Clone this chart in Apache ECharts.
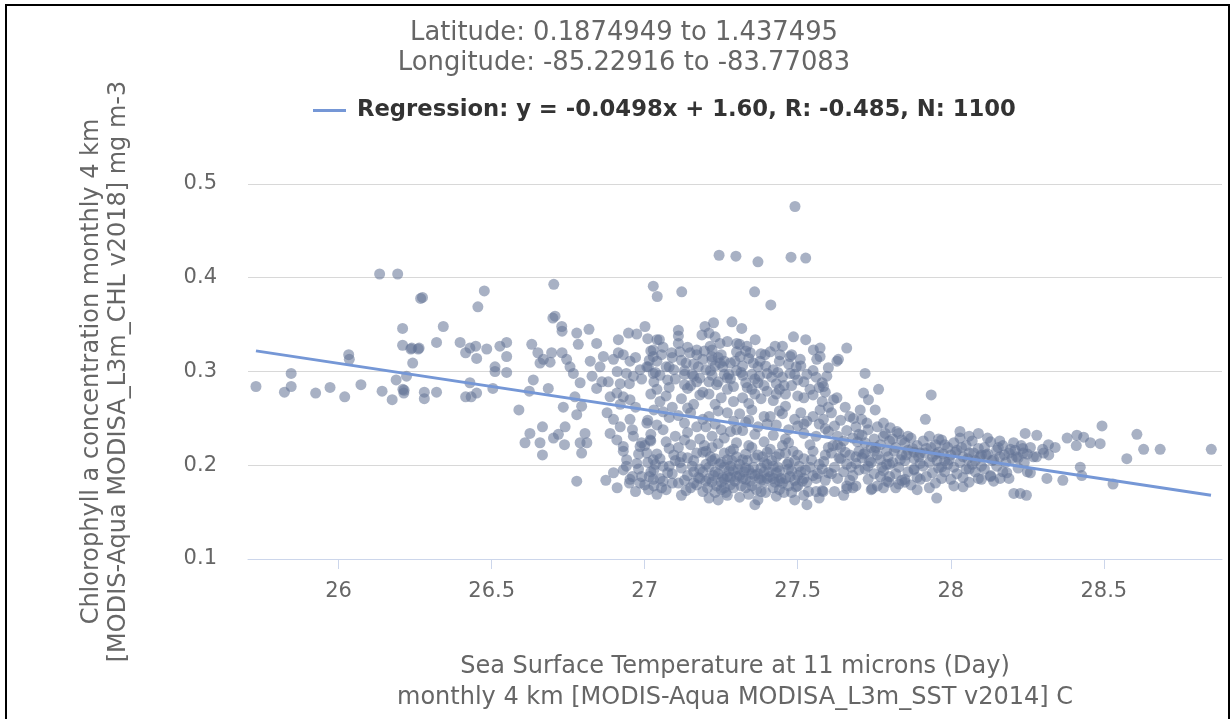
<!DOCTYPE html>
<html>
<head>
<meta charset="utf-8">
<script src="https://cdn.jsdelivr.net/npm/echarts@6/dist/echarts.min.js"></script>
<style>
html,body{margin:0;padding:0;background:#fff;}
#chart{position:absolute;left:0;top:0;width:1231px;height:719px;}
#frame{position:absolute;left:5px;top:4px;width:1225px;height:730px;border:2px solid #000;box-sizing:border-box;pointer-events:none;}
</style>
</head>
<body>
<div id="chart"></div>
<div id="frame"></div>
<script>
const titleLines = ['Latitude: 0.1874949 to 1.437495', 'Longitude: -85.22916 to -83.77083'];
const legendLabel = 'Regression: y = -0.0498x + 1.60, R: -0.485, N: 1100';
const xAxisTitle = 'Sea Surface Temperature at 11 microns (Day)\nmonthly 4 km [MODIS-Aqua MODISA_L3m_SST v2014] C';
const yAxisTitle = 'Chlorophyll a concentration monthly 4 km\n[MODIS-Aqua MODISA_L3m_CHL v2018] mg m-3';
const xTickValues = [26, 26.5, 27, 27.5, 28, 28.5];
const yTickValues = [0.1, 0.2, 0.3, 0.4, 0.5];
const regressionLine = [[25.73, 0.322], [28.85, 0.168]];

// [SST (C), Chlorophyll a (mg m-3)] pairs
const scatterPoints = [
[25.73,0.284],[25.823,0.278],[25.845,0.284],[25.845,0.298],[25.925,0.277],[25.972,0.283],[26.02,0.273],[26.033,0.318],[26.035,0.313],[26.073,0.286],[26.134,0.404],[26.193,0.404],[26.142,0.279],[26.175,0.270],[26.188,0.291],[26.209,0.346],[26.209,0.328],[26.21,0.281],[26.213,0.277],[26.222,0.295],[26.236,0.324],[26.242,0.309],[26.26,0.324],[26.268,0.378],
[26.214,0.28],[26.239,0.325],[26.263,0.325],[26.274,0.379],[26.28,0.278],[26.28,0.271],[26.32,0.278],[26.32,0.331],[26.342,0.348],[26.397,0.331],[26.415,0.320],[26.429,0.325],[26.448,0.327],[26.451,0.314],[26.455,0.369],[26.476,0.386],[26.429,0.288],[26.415,0.273],[26.433,0.273],[26.451,0.277],[26.484,0.324],[26.504,0.282],[26.511,0.305],[26.511,0.300],[26.527,0.327],[26.549,0.331],[26.549,0.316],[26.549,0.299],[26.589,0.259],[26.631,0.329],[26.623,0.279],[26.636,0.291],[26.651,0.320],[26.658,0.309],[26.669,0.313],[26.696,0.320],[26.691,0.310],[26.685,0.282],[26.703,0.393],[26.70,0.357],[26.707,0.359],[26.729,0.348],[26.73,0.343],[26.625,0.234],[26.609,0.224],[26.666,0.241],[26.658,0.224],[26.666,0.211],[26.702,0.229],[26.718,0.233],[26.74,0.241],[26.738,0.222],[26.734,0.262],[26.778,0.183],[26.873,0.184],[26.73,0.320],[26.745,0.313],[26.756,0.305],[26.767,0.298],[26.778,0.341],[26.783,0.329],[26.818,0.345],[26.789,0.288],[26.772,0.273],[26.794,0.263],[26.778,0.254],[26.805,0.234],[26.789,0.224],[26.811,0.224],[26.794,0.213],[26.822,0.311],[26.828,0.295],[26.854,0.305],[26.865,0.316],[26.843,0.330],[26.843,0.282],[26.86,0.289],[26.881,0.289],[26.898,0.313],[26.914,0.334],[26.914,0.320],[26.947,0.341],[26.974,0.340],[27.001,0.348],[26.952,0.311],[26.963,0.295],[26.985,0.302],[27.012,0.305],[27.028,0.298],[26.887,0.273],[26.909,0.277],[26.93,0.273],[26.952,0.270],[26.877,0.256],[26.898,0.249],[26.92,0.241],[26.952,0.249],[27.007,0.245],[26.887,0.234],[26.909,0.227],[26.93,0.220],[26.963,0.231],[26.985,0.220],[27.018,0.227],[26.898,0.192],[26.93,0.195],[26.952,0.185],[26.985,0.181],[27.012,0.174],[27.028,0.185],[26.941,0.206],[26.974,0.202],[27.007,0.213],[27.028,0.206],[27.04,0.334],[27.028,0.323],
[26.91,0.300],[26.93,0.318],[26.95,0.287],[26.97,0.262],[26.99,0.292],[26.92,0.265],[26.96,0.238],[26.98,0.212],[26.94,0.199],[26.99,0.188],[26.91,0.176],[26.97,0.172],[26.99,0.224],[26.95,0.181],[26.93,0.215],
[27.491,0.476],[27.243,0.424],[27.298,0.423],[27.37,0.417],[27.478,0.422],[27.526,0.421],[27.028,0.391],[27.041,0.380],[27.121,0.385],[27.359,0.385],[27.412,0.371],[27.048,0.334],[27.11,0.344],[27.11,0.330],[27.088,0.320],[27.028,0.316],[27.007,0.305],[27.197,0.348],[27.225,0.352],[27.187,0.339],[27.23,0.337],[27.285,0.353],[27.317,0.346],[27.361,0.334],[27.148,0.320],[27.17,0.323],[27.214,0.327],[27.246,0.330],[27.219,0.316],[27.246,0.309],[27.301,0.330],[27.334,0.327],[27.312,0.316],[27.345,0.320],[27.377,0.311],[27.393,0.318],[27.426,0.327],[27.442,0.318],[27.475,0.316],[27.508,0.313],[27.486,0.337],[27.526,0.334],[27.551,0.323],[27.562,0.313],[27.628,0.311],[27.6,0.304],
[27.01,0.335],[27.02,0.322],[27.03,0.289],[27.04,0.311],[27.05,0.296],[27.06,0.326],[27.07,0.305],[27.08,0.283],[27.09,0.315],[27.10,0.292],[27.02,0.276],[27.05,0.268],[27.07,0.274],[27.09,0.262],[27.03,0.259],
[27.01,0.248],[27.04,0.243],[27.06,0.238],[27.08,0.251],[27.10,0.231],[27.02,0.233],
[27.00,0.221],[27.01,0.203],[27.02,0.193],[27.03,0.178],[27.04,0.212],[27.05,0.186],[27.06,0.199],[27.07,0.174],[27.08,0.218],[27.09,0.191],[27.10,0.205],[27.04,0.169],[27.07,0.225],[27.09,0.181],[27.05,0.207],[27.02,0.226],
[27.11,0.338],[27.12,0.312],[27.13,0.297],[27.14,0.326],[27.15,0.285],[27.16,0.308],[27.17,0.318],[27.18,0.293],[27.19,0.278],[27.20,0.302],[27.12,0.271],[27.14,0.282],[27.16,0.265],[27.18,0.275],[27.13,0.301],[27.17,0.289],[27.19,0.313],
[27.11,0.253],[27.13,0.245],[27.15,0.256],[27.17,0.241],[27.19,0.249],[27.14,0.235],[27.18,0.228],
[27.11,0.219],[27.12,0.197],[27.13,0.184],[27.14,0.208],[27.15,0.176],[27.16,0.193],[27.17,0.213],[27.18,0.186],[27.19,0.172],[27.20,0.201],[27.12,0.168],[27.15,0.222],[27.17,0.179],[27.19,0.214],[27.14,0.189],[27.16,0.205],[27.18,0.196],[27.20,0.183],[27.13,0.227],[27.11,0.181],
[27.21,0.341],[27.22,0.323],[27.23,0.306],[27.24,0.289],[27.25,0.318],[27.26,0.297],[27.27,0.332],[27.28,0.309],[27.29,0.284],[27.30,0.321],[27.21,0.276],[27.23,0.265],[27.25,0.272],[27.27,0.281],[27.29,0.268],[27.22,0.296],[27.26,0.311],[27.28,0.292],[27.24,0.315],[27.30,0.301],
[27.21,0.252],[27.23,0.244],[27.25,0.238],[27.27,0.256],[27.29,0.247],[27.22,0.231],[27.26,0.229],[27.28,0.236],
[27.20,0.215],[27.21,0.198],[27.22,0.182],[27.23,0.207],[27.24,0.191],[27.25,0.174],[27.26,0.213],[27.27,0.188],[27.28,0.199],[27.29,0.176],[27.30,0.209],[27.21,0.165],[27.23,0.171],[27.25,0.203],[27.27,0.168],[27.29,0.194],[27.22,0.219],[27.24,0.223],[27.26,0.185],[27.28,0.179],[27.30,0.188],[27.24,0.163],[27.27,0.206],[27.29,0.217],[27.23,0.193],[27.26,0.198],[27.28,0.215],[27.22,0.205],
[27.31,0.329],[27.32,0.306],[27.33,0.288],[27.34,0.314],[27.35,0.297],[27.36,0.276],[27.37,0.305],[27.38,0.319],[27.39,0.285],[27.40,0.298],[27.32,0.272],[27.34,0.266],[27.36,0.292],[27.38,0.271],[27.40,0.279],[27.33,0.322],[27.37,0.288],
[27.31,0.255],[27.33,0.246],[27.35,0.259],[27.37,0.241],[27.39,0.252],[27.32,0.237],[27.36,0.233],[27.40,0.244],
[27.30,0.224],[27.31,0.201],[27.32,0.186],[27.33,0.212],[27.34,0.195],[27.35,0.178],[27.36,0.208],[27.37,0.191],[27.38,0.172],[27.39,0.203],[27.40,0.186],[27.31,0.166],[27.33,0.176],[27.35,0.219],[27.37,0.163],[27.39,0.182],[27.32,0.206],[27.34,0.221],[27.36,0.189],[27.38,0.197],[27.40,0.214],[27.34,0.169],[27.37,0.211],[27.39,0.225],[27.36,0.158],[27.33,0.197],[27.38,0.184],
[27.41,0.321],[27.42,0.302],[27.43,0.287],[27.44,0.311],[27.45,0.294],[27.46,0.276],[27.47,0.308],[27.48,0.285],[27.49,0.297],[27.50,0.274],[27.42,0.269],[27.44,0.281],[27.46,0.263],[27.48,0.318],[27.50,0.291],[27.45,0.327],
[27.41,0.252],[27.43,0.243],[27.45,0.255],[27.47,0.238],[27.49,0.249],[27.42,0.232],[27.46,0.228],[27.50,0.242],
[27.40,0.201],[27.41,0.188],[27.42,0.176],[27.43,0.209],[27.44,0.194],[27.45,0.181],[27.46,0.213],[27.47,0.196],[27.48,0.171],[27.49,0.205],[27.50,0.189],[27.41,0.217],[27.43,0.167],[27.45,0.221],[27.47,0.178],[27.49,0.163],[27.42,0.199],[27.44,0.212],[27.46,0.186],[27.48,0.194],[27.50,0.211],[27.44,0.174],[27.47,0.224],[27.49,0.184],[27.43,0.192],
[27.51,0.306],[27.52,0.289],[27.53,0.297],[27.54,0.281],[27.55,0.275],[27.56,0.294],[27.57,0.283],[27.58,0.268],[27.59,0.278],[27.60,0.262],[27.52,0.272],[27.55,0.301],[27.58,0.288],
[27.51,0.256],[27.53,0.247],[27.55,0.252],[27.57,0.244],[27.59,0.239],[27.52,0.234],[27.56,0.231],[27.60,0.236],
[27.50,0.178],[27.51,0.193],[27.52,0.207],[27.53,0.182],[27.54,0.198],[27.55,0.215],[27.56,0.186],[27.57,0.201],[27.58,0.173],[27.59,0.211],[27.60,0.192],[27.52,0.168],[27.54,0.222],[27.56,0.172],[27.58,0.196],[27.60,0.219],[27.53,0.158],[27.57,0.165],[27.55,0.189],[27.59,0.184],
[27.573,0.325],[27.573,0.316],[27.595,0.295],[27.584,0.284],[27.66,0.325],[27.633,0.313],[27.72,0.298],[27.617,0.270],[27.628,0.272],[27.655,0.262],[27.715,0.277],[27.731,0.270],[27.764,0.281],[27.753,0.259],[27.704,0.259],[27.682,0.250],[27.709,0.249],[27.726,0.245],[27.573,0.259],[27.584,0.249],[27.78,0.245],[27.802,0.240],[27.824,0.236],[27.786,0.234],[27.917,0.249],[27.936,0.275],[27.954,0.165],
[27.583,0.172],[27.66,0.175],[27.69,0.178],[27.743,0.175],[27.797,0.182],[27.83,0.180],[27.85,0.182],[27.90,0.185],[28.01,0.178],[28.10,0.185],[28.13,0.188],[28.206,0.170],
[27.61,0.256],[27.62,0.242],[27.63,0.231],[27.64,0.248],[27.65,0.226],[27.66,0.237],[27.67,0.252],[27.68,0.229],[27.69,0.241],[27.70,0.233],
[27.61,0.213],[27.62,0.198],[27.63,0.186],[27.64,0.207],[27.65,0.193],[27.66,0.178],[27.67,0.211],[27.68,0.189],[27.69,0.202],[27.70,0.215],[27.62,0.172],[27.64,0.219],[27.66,0.201],[27.68,0.176],[27.70,0.195],[27.63,0.222],[27.67,0.184],[27.61,0.191],[27.65,0.168],
[27.71,0.232],[27.72,0.224],[27.73,0.238],[27.74,0.219],[27.75,0.228],[27.76,0.241],[27.77,0.222],[27.78,0.231],[27.79,0.215],[27.80,0.226],
[27.71,0.208],[27.72,0.196],[27.73,0.185],[27.74,0.203],[27.75,0.191],[27.76,0.178],[27.77,0.206],[27.78,0.194],[27.79,0.183],[27.80,0.201],[27.72,0.213],[27.74,0.174],[27.76,0.211],[27.78,0.176],[27.80,0.188],[27.73,0.199],[27.77,0.188],[27.75,0.215],
[27.81,0.228],[27.82,0.219],[27.83,0.234],[27.84,0.211],[27.85,0.224],[27.86,0.216],[27.87,0.229],[27.88,0.207],[27.89,0.221],[27.90,0.213],
[27.81,0.203],[27.82,0.191],[27.83,0.198],[27.84,0.184],[27.85,0.205],[27.86,0.193],[27.87,0.179],[27.88,0.196],[27.89,0.187],[27.90,0.202],[27.82,0.176],[27.85,0.185],[27.88,0.214],[27.84,0.227],[27.86,0.231],[27.89,0.174],
[27.91,0.226],[27.92,0.218],[27.93,0.231],[27.94,0.209],[27.95,0.222],[27.96,0.214],[27.97,0.227],[27.98,0.205],[27.99,0.219],[28.00,0.211],
[27.91,0.199],[27.92,0.188],[27.93,0.203],[27.94,0.192],[27.95,0.181],[27.96,0.197],[27.97,0.186],[27.98,0.193],[27.99,0.201],[28.00,0.185],[27.93,0.176],[27.96,0.228],[27.98,0.222],[27.95,0.212],
[28.01,0.224],[28.02,0.216],[28.03,0.229],[28.04,0.209],[28.05,0.221],[28.06,0.213],[28.07,0.226],[28.08,0.205],[28.09,0.218],[28.10,0.211],
[28.01,0.198],[28.02,0.191],[28.03,0.203],[28.04,0.187],[28.05,0.196],[28.06,0.182],[28.07,0.201],[28.08,0.193],[28.09,0.186],[28.10,0.199],[28.03,0.236],[28.06,0.231],[28.09,0.234],[28.04,0.177],
[28.11,0.219],[28.12,0.212],[28.13,0.225],[28.14,0.206],[28.15,0.216],[28.16,0.209],[28.17,0.221],[28.18,0.203],[28.19,0.213],[28.20,0.207],
[28.11,0.196],[28.13,0.189],[28.15,0.199],[28.17,0.193],[28.19,0.186],[28.12,0.229],[28.16,0.226],[28.14,0.183],
[28.21,0.216],[28.22,0.208],[28.23,0.221],[28.24,0.203],[28.25,0.212],[28.26,0.219],[28.28,0.209],[28.30,0.217],[28.32,0.211],[28.22,0.197],[28.25,0.193],
[28.494,0.242],[28.608,0.233],[28.63,0.217],[28.684,0.217],[28.851,0.217],[28.575,0.207],[28.53,0.180],[28.488,0.223],[28.423,0.198],[28.428,0.189],[28.366,0.184],[28.314,0.186],[28.227,0.170],[28.247,0.168],[28.38,0.229],[28.412,0.232],[28.434,0.230],[28.41,0.221],[28.456,0.224],[28.341,0.219],[28.319,0.222],[28.281,0.232],[28.243,0.234],[28.205,0.224],[28.237,0.213],[28.27,0.209],[28.303,0.213],[28.26,0.192],[28.183,0.192],[28.161,0.186],
[27.015,0.188],[27.035,0.201],[27.055,0.176],[27.075,0.192],[27.095,0.211],[27.115,0.203],[27.135,0.173],[27.155,0.199],[27.175,0.187],[27.195,0.221],[27.205,0.176],[27.215,0.209],[27.225,0.189],[27.235,0.178],[27.245,0.201],[27.255,0.187],[27.265,0.171],[27.275,0.194],[27.285,0.205],[27.295,0.183],[27.305,0.196],[27.315,0.178],[27.325,0.193],[27.335,0.205],[27.345,0.183],[27.355,0.198],[27.365,0.174],[27.375,0.186],[27.385,0.209],[27.395,0.171],[27.405,0.193],[27.415,0.205],[27.425,0.182],[27.435,0.198],[27.445,0.186],[27.455,0.171],[27.465,0.201],[27.475,0.188],[27.485,0.215],[27.495,0.177],[27.505,0.199],[27.515,0.183],[27.525,0.195],[27.535,0.172],[27.545,0.206],[27.565,0.191],[27.585,0.204],[27.25,0.182],[27.31,0.189],[27.35,0.191],[27.42,0.186],[27.28,0.187],[27.21,0.186],[27.19,0.193],[27.47,0.203],[27.39,0.193],[27.33,0.185],[27.26,0.176],[27.44,0.183],[27.52,0.186],[27.16,0.181],[27.12,0.209],[27.08,0.199],[27.06,0.183],[27.03,0.195],[27.00,0.179],[26.98,0.196],[26.96,0.188],
[27.015,0.312],[27.035,0.299],[27.055,0.318],[27.075,0.291],[27.095,0.302],[27.115,0.321],[27.135,0.309],[27.155,0.297],[27.175,0.305],[27.195,0.322],[27.215,0.301],[27.235,0.286],[27.255,0.305],[27.275,0.297],[27.295,0.311],[27.315,0.299],[27.335,0.283],[27.355,0.309],[27.375,0.295],[27.395,0.306],[27.415,0.294],[27.435,0.299],[27.455,0.285],[27.475,0.298],[27.495,0.305],[27.04,0.281],[27.13,0.286],[27.21,0.289],[27.27,0.293],[27.35,0.281],[27.43,0.276],[27.22,0.312],[27.32,0.296],[27.16,0.295],[27.08,0.305],[26.97,0.315],[26.94,0.298],[26.92,0.287],
[27.06,0.257],[27.14,0.261],[27.24,0.258],[27.34,0.248],[27.44,0.258],[27.52,0.244],[27.2,0.241],[27.3,0.238],
[27.615,0.221],[27.635,0.208],[27.655,0.214],[27.675,0.198],[27.695,0.225],[27.715,0.212],[27.735,0.205],[27.755,0.219],[27.775,0.198],[27.795,0.209],[27.815,0.215],[27.835,0.206],[27.855,0.211],[27.875,0.218],[27.895,0.209],[27.915,0.213],[27.935,0.219],[27.955,0.205],[27.975,0.212],[27.995,0.206],[28.015,0.214],[28.035,0.219],[28.055,0.207],[28.075,0.213],[28.095,0.209],[28.115,0.211],[28.135,0.205],[28.155,0.219],[28.175,0.211],[28.195,0.217],[28.215,0.209],[28.235,0.218],[27.88,0.195],[27.97,0.198],[28.06,0.196],[27.79,0.201],[27.69,0.209]
];

const FONT = 'DejaVu Sans';
const chart = echarts.init(document.getElementById('chart'), null, {renderer: 'canvas'});
chart.setOption({
  animation: false,
  backgroundColor: '#ffffff',
  textStyle: {fontFamily: FONT},
  grid: {left: 248, right: 9, top: 184, bottom: 160, containLabel: false},
  graphic: [
    {type: 'text', style: {text: titleLines[0], x: 624, y: 33, textAlign: 'center', textVerticalAlign: 'middle', fill: '#666', fontSize: 25.8, fontFamily: FONT}},
    {type: 'text', style: {text: titleLines[1], x: 624, y: 63, textAlign: 'center', textVerticalAlign: 'middle', fill: '#666', fontSize: 25.8, fontFamily: FONT}}
  ],
  legend: {
    data: [{name: legendLabel, icon: 'rect'}],
    left: 308, top: 94,
    itemWidth: 33, itemHeight: 3,
    textStyle: {fontSize: 22.7, fontWeight: 'bold', color: '#333', fontFamily: FONT, padding: [0, 0, 0, 6]},
    selectedMode: false
  },
  xAxis: {
    type: 'value', min: 25.704, max: 28.886,
    name: xAxisTitle, nameLocation: 'middle', nameGap: 92,
    nameTextStyle: {fontSize: 24, color: '#666', lineHeight: 31, fontFamily: FONT},
    axisLine: {show: true, lineStyle: {color: '#ccd6eb', width: 1}},
    axisTick: {show: true, length: 10, lineStyle: {color: '#ccd6eb'}, customValues: xTickValues},
    axisLabel: {fontSize: 21, color: '#666', margin: 22, customValues: xTickValues, fontFamily: FONT},
    splitLine: {show: false}
  },
  yAxis: {
    type: 'value', min: 0.1, max: 0.5, interval: 0.1,
    name: yAxisTitle, nameLocation: 'middle', nameGap: 116, nameRotate: 90,
    nameTextStyle: {fontSize: 24, color: '#666', lineHeight: 27, fontFamily: FONT},
    axisLine: {show: false}, axisTick: {show: false},
    axisLabel: {fontSize: 21, color: '#666', margin: 31, customValues: yTickValues, fontFamily: FONT},
    splitLine: {show: true, lineStyle: {color: '#d8d8d8', width: 1}}
  },
  series: [
    {
      name: 'points', type: 'scatter', data: scatterPoints, symbolSize: 11,
      itemStyle: {color: 'rgba(100,116,150,0.7)'}, z: 2, silent: true
    },
    {
      name: legendLabel, type: 'line', data: regressionLine, showSymbol: false,
      lineStyle: {color: '#7597d6', width: 3}, itemStyle: {color: '#7597d6'}, z: 3, silent: true
    }
  ]
});
</script>
</body>
</html>
